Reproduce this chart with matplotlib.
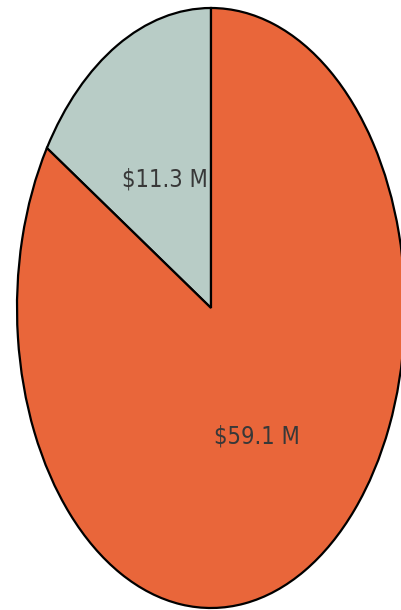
import matplotlib
matplotlib.use("Agg")
from matplotlib import pyplot as plt

labels = ["$11.3 M", "$59.1 M"]
values = [11.3, 59.1]
colors = ["#b8ccc6", "#e9663a"]


def make_label(pct):
    total = sum(values)
    for lab, v in zip(labels, values):
        if abs(v / total * 100 - pct) < 0.01:
            return lab
    return ""


fig = plt.figure(figsize=(4.01, 6.10), dpi=100)
ax = fig.add_axes([17 / 401, 2 / 610, 388 / 401, 600 / 610])
wedges, texts, autotexts = ax.pie(
    values,
    colors=colors,
    startangle=90,
    counterclock=True,
    autopct=make_label,
    pctdistance=0.49,
    wedgeprops={"edgecolor": "black", "linewidth": 1.6},
    textprops={"fontsize": 17, "color": "#383838",
               "family": "DejaVu Sans", "fontstretch": "condensed"},
)
ax.set_aspect("auto")
ax.set_xlim(-1, 1)
ax.set_ylim(-1, 1)
ax.axis("off")
fig.savefig("out.png", dpi=100)
